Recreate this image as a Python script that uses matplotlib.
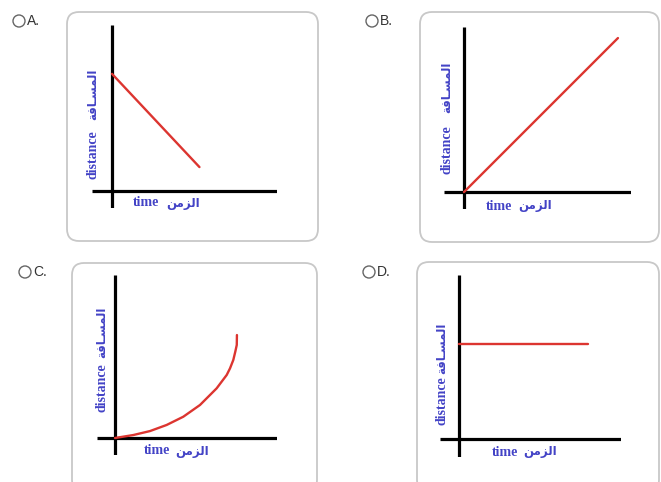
import matplotlib
matplotlib.use('Agg')
import matplotlib.pyplot as plt
from matplotlib.patches import FancyBboxPatch, Circle

# ---- data (units: 1 unit = 16.5 px of the original drawing) ----
time_a = [0, 5.3]
dist_a = [7.1, 1.45]

time_b = [0, 9.33]
dist_b = [0, 9.33]

time_c = [0, 1.11, 2.12, 3.13, 4.14, 5.15, 6.16, 6.77, 6.97, 7.17, 7.29, 7.38, 7.39]
dist_c = [0, 0.18, 0.42, 0.79, 1.29, 2.0, 3.01, 3.82, 4.22, 4.73, 5.23, 5.64, 6.24]

time_d = [0, 7.82]
dist_d = [5.76, 5.76]

option_labels = ['A.', 'B.', 'C.', 'D.']
label_time = 'time'
label_dist = 'distance'
# Arabic written in presentation forms, visual order (matplotlib has no shaping)
label_time_ar = '\ufee6\ufee3\ufeb0\ufedf\ufe8d'                    # الزمن
label_dist_ar = '\ufe94\ufed3\ufe8e\u0640\ufeb4\ufee4\ufedf\ufe8d'  # المسـافة

W, H = 661, 482
S = 16.5
BLUE = '#4343c6'
RED = '#dc3530'

fig = plt.figure(figsize=(W / 100, H / 100), dpi=100)
bg = fig.add_axes([0, 0, 1, 1])
bg.set_xlim(0, W)
bg.set_ylim(H, 0)
bg.axis('off')

# panel layout in pixels: box, radio centre, origin, axis extents, label spots
panels = [
    dict(box=(67, 12, 318, 241), radio=(19, 21), origin=(112, 191),
         ext=(92, 277, 25, 208), dist=(93, 155), dist_ar=(93, 94),
         time=(146, 203), time_ar=(183, 203),
         t=time_a, d=dist_a),
    dict(box=(420, 12, 659, 242), radio=(372, 21), origin=(464, 192),
         ext=(444, 631, 27, 209), dist=(447, 150), dist_ar=(447, 87),
         time=(499, 206), time_ar=(535, 206),
         t=time_b, d=dist_b),
    dict(box=(72, 263, 317, 492), radio=(25, 272), origin=(115, 438),
         ext=(97, 277, 275, 455), dist=(102, 388), dist_ar=(102, 332),
         time=(157, 451), time_ar=(192, 451),
         t=time_c, d=dist_c),
    dict(box=(417, 262, 659, 492), radio=(369, 272), origin=(459, 439),
         ext=(440, 621, 275, 457), dist=(442, 401), dist_ar=(442, 348),
         time=(505, 452), time_ar=(540, 452),
         t=time_d, d=dist_d),
]

for lab, p in zip(option_labels, panels):
    x0, y0, x1, y1 = p['box']
    bg.add_patch(FancyBboxPatch((x0, y0), x1 - x0, y1 - y0,
                                boxstyle='round,pad=0,rounding_size=12',
                                facecolor='white', edgecolor='#c8c8c8', linewidth=1.3))
    cx, cy = p['radio']
    bg.add_patch(Circle((cx, cy), 6, facecolor='white', edgecolor='#666666', linewidth=1.0))
    bg.text(cx + 8, cy, lab, fontsize=10, family='Liberation Sans', color='#333333',
            ha='left', va='center')

    # the small graph itself
    ox, oy = p['origin']
    left, right, top, bottom = p['ext']
    ax = fig.add_axes([left / W, 1 - bottom / H, (right - left) / W, (bottom - top) / H])
    ax.set_xlim((left - ox) / S, (right - ox) / S)
    ax.set_ylim((oy - bottom) / S, (oy - top) / S)
    ax.axis('off')
    ax.patch.set_alpha(0)
    ax.axhline(0, color='black', linewidth=2.3, solid_capstyle='butt')
    ax.axvline(0, color='black', linewidth=2.3, solid_capstyle='butt')
    ax.plot(p['t'], p['d'], color=RED, linewidth=1.7, solid_capstyle='round',
            solid_joinstyle='round')

    bg.text(*p['dist'], label_dist, rotation=90, fontsize=10, fontweight='bold',
            family='Liberation Serif', color=BLUE, ha='center', va='center')
    bg.text(*p['dist_ar'], label_dist_ar, rotation=90, fontsize=8.5, fontweight='bold',
            family='DejaVu Sans', color=BLUE, ha='center', va='center')
    bg.text(*p['time'], label_time, fontsize=10, fontweight='bold',
            family='Liberation Serif', color=BLUE, ha='center', va='center')
    bg.text(*p['time_ar'], label_time_ar, fontsize=8.5, fontweight='bold',
            family='DejaVu Sans', color=BLUE, ha='center', va='center')

fig.savefig('out.png', dpi=100, facecolor='white')
